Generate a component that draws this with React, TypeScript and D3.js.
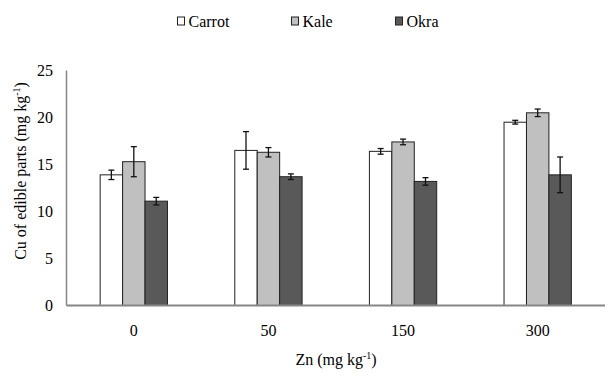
import React from 'react';
import * as d3 from 'd3';

const doses = ['0', '50', '150', '300'];
const crops = ['Carrot', 'Kale', 'Okra'];
const carrot = [13.9, 16.5, 16.4, 19.5];
const kale = [15.3, 16.3, 17.4, 20.5];
const okra = [11.1, 13.7, 13.2, 13.9];
const carrotErr = [0.5, 2.0, 0.3, 0.2];
const kaleErr = [1.6, 0.5, 0.3, 0.4];
const okraErr = [0.4, 0.3, 0.4, 1.9];
const yTicks = [0, 5, 10, 15, 20, 25];

const colors = ['#ffffff', '#c0c0c0', '#595959'];
const font = 'Liberation Serif, Times New Roman, serif';

const W = 609;
const H = 376;
const margin = { left: 66.5, right: 4, top: 70.5, bottom: 70.5 };

const App = () => {
  const values = [carrot, kale, okra];
  const errs = [carrotErr, kaleErr, okraErr];

  const x0 = d3.scaleBand().domain(doses).range([margin.left, W - margin.right])
    .paddingInner(0.5).paddingOuter(0.25);
  const x1 = d3.scaleBand().domain(crops).range([0, x0.bandwidth()]);
  const y = d3.scaleLinear().domain([0, 25]).range([H - margin.bottom, margin.top]);

  const legendX = [177.5, 291.5, 395.5];
  const ts = { fontFamily: font, fontSize: 16 };

  return (
    <svg width={W} height={H} style={{ position: 'absolute', left: 0, top: 0, fontFamily: font }}>
      <rect width={W} height={H} fill="#fff" />
      {/* legend */}
      {crops.map((c, i) => (
        <g key={c} transform={`translate(${legendX[i]},17)`}>
          <rect x={0} y={0} width={7} height={8} fill={colors[i]} stroke="#222" strokeWidth={1} />
          <text x={11} y={9.5} style={ts} fill="#000">{c}</text>
        </g>
      ))}

      {/* bars */}
      {doses.map((d, di) => (
        <g key={d} transform={`translate(${x0(d)},0)`}>
          {crops.map((c, ci) => {
            const v = values[ci][di];
            const e = errs[ci][di];
            const bx = x1(c)!;
            const cx = bx + x1.bandwidth() / 2;
            return (
              <g key={c}>
                <rect x={bx} y={y(v)} width={x1.bandwidth()} height={y(0) - y(v)}
                  fill={colors[ci]} stroke="#222" strokeWidth={1} />
                <line x1={cx} x2={cx} y1={y(v + e)} y2={y(v - e)} stroke="#111" strokeWidth={1.3} />
                <line x1={cx - 3} x2={cx + 3} y1={y(v + e)} y2={y(v + e)} stroke="#111" strokeWidth={1.3} />
                <line x1={cx - 3} x2={cx + 3} y1={y(v - e)} y2={y(v - e)} stroke="#111" strokeWidth={1.3} />
              </g>
            );
          })}
        </g>
      ))}

      {/* axes */}
      <line x1={margin.left} x2={margin.left} y1={y(25)} y2={y(0)} stroke="#868686" strokeWidth={1.5} />
      <line x1={margin.left} x2={W - margin.right} y1={y(0)} y2={y(0)} stroke="#868686" strokeWidth={2} />
      {yTicks.map(t => (
        <text key={t} x={53} y={y(t) + 5.5} style={ts} textAnchor="end" fill="#000">{t}</text>
      ))}
      {doses.map(d => (
        <text key={d} x={x0(d)! + x0.bandwidth() / 2} y={336} style={ts} textAnchor="middle" fill="#000">{d}</text>
      ))}

      <text x={336} y={365} style={ts} textAnchor="middle" fill="#000">
        Zn (mg kg<tspan dy={-6} style={{ fontSize: 10 }}>-1</tspan><tspan dy={6}>)</tspan>
      </text>
      <text transform={`translate(26,171) rotate(-90)`} style={ts} textAnchor="middle" fill="#000">
        Cu of edible parts (mg kg<tspan dy={-6} style={{ fontSize: 10 }}>-1</tspan><tspan dy={6}>)</tspan>
      </text>
    </svg>
  );
};

export default App;
